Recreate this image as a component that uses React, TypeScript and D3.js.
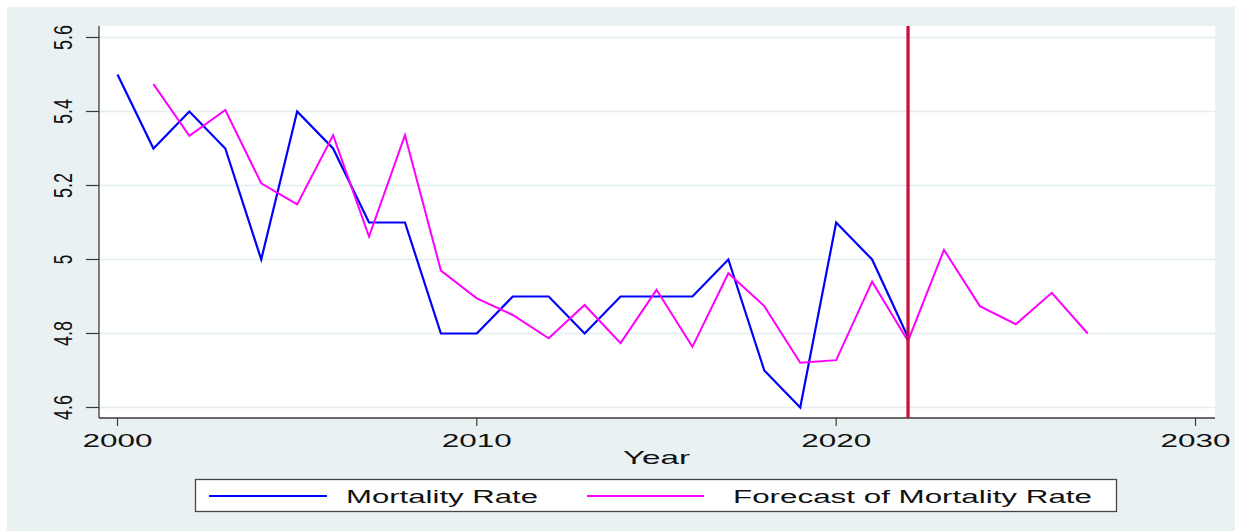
import React from "react";
import * as d3 from "d3";

const mortalityYears = [2000, 2001, 2002, 2003, 2004, 2005, 2006, 2007, 2008, 2009, 2010, 2011, 2012, 2013, 2014, 2015, 2016, 2017, 2018, 2019, 2020, 2021, 2022];
const mortalityRate = [5.5, 5.3, 5.4, 5.3, 5.0, 5.4, 5.3, 5.1, 5.1, 4.8, 4.8, 4.9, 4.9, 4.8, 4.9, 4.9, 4.9, 5.0, 4.7, 4.6, 5.1, 5.0, 4.79];
const forecastYears = [2001, 2002, 2003, 2004, 2005, 2006, 2007, 2008, 2009, 2010, 2011, 2012, 2013, 2014, 2015, 2016, 2017, 2018, 2019, 2020, 2021, 2022, 2023, 2024, 2025, 2026, 2027];
const forecastRate = [5.474, 5.334, 5.404, 5.206, 5.149, 5.336, 5.062, 5.336, 4.97, 4.895, 4.85, 4.787, 4.877, 4.774, 4.918, 4.764, 4.963, 4.874, 4.721, 4.728, 4.94, 4.78, 5.026, 4.874, 4.825, 4.91, 4.8];
const xTicks = [2000, 2010, 2020, 2030];
const yTicks = [4.6, 4.8, 5.0, 5.2, 5.4, 5.6];
const yTickLabels = ["4.6", "4.8", "5", "5.2", "5.4", "5.6"];
const forecastStartYear = 2022;
const legendLabels = ["Mortality Rate", "Forecast of Mortality Rate"];
const xAxisTitle = "Year";

const W = 1235;
const H = 531;
const plot = { left: 99, right: 1215, top: 26, bottom: 418 };
const FONT = "'Liberation Sans', Arial, Helvetica, sans-serif";

export default function App() {
  const x = d3.scaleLinear().domain([2000, 2030]).range([117.5, 1195.5]);
  const y = d3.scaleLinear().domain([4.6, 5.6]).range([407.5, 37.5]);

  const line = d3
    .line<[number, number]>()
    .x((d) => x(d[0]))
    .y((d) => y(d[1]));

  const mortalityPts = mortalityYears.map((yr, i) => [yr, mortalityRate[i]] as [number, number]);
  const forecastPts = forecastYears.map((yr, i) => [yr, forecastRate[i]] as [number, number]);

  const labelLen = (s: string) => (s.length === 1 ? 9.5 : 25);

  return (
    <svg
      width={W}
      height={H}
      style={{ position: "absolute", left: 0, top: 0, display: "block" }}
      fontFamily={FONT}
    >
      <rect x={0} y={0} width={W} height={H} fill="#ffffff" />
      <rect x={7} y={7} width={W - 7} height={H - 7} fill="#eaf1f3" />
      <rect
        x={plot.left}
        y={plot.top}
        width={plot.right - plot.left}
        height={plot.bottom - plot.top}
        fill="#ffffff"
      />
      {/* gridlines */}
      {yTicks.map((t) => (
        <line
          key={"g" + t}
          x1={plot.left}
          x2={plot.right}
          y1={y(t)}
          y2={y(t)}
          stroke="#e4edef"
          strokeWidth={1.6}
        />
      ))}
      {/* axes */}
      <line x1={plot.left} x2={plot.left} y1={plot.top} y2={plot.bottom} stroke="#3a3a3a" strokeWidth={1.3} />
      <line x1={plot.left} x2={plot.right} y1={plot.bottom} y2={plot.bottom} stroke="#3a3a3a" strokeWidth={1.3} />
      {yTicks.map((t, i) => (
        <g key={"yt" + t}>
          <line x1={86} x2={plot.left} y1={y(t)} y2={y(t)} stroke="#3a3a3a" strokeWidth={1.2} />
          <text
            transform={`translate(72,${y(t)}) scale(1.5,1) rotate(-90)`}
            textAnchor="middle"
            fontSize={17}
            fill="#111"
            textLength={labelLen(yTickLabels[i])}
            lengthAdjust="spacingAndGlyphs"
          >
            {yTickLabels[i]}
          </text>
        </g>
      ))}
      {xTicks.map((t) => (
        <g key={"xt" + t}>
          <line x1={x(t)} x2={x(t)} y1={plot.bottom} y2={426} stroke="#3a3a3a" strokeWidth={1.2} />
          <text
            x={x(t) - 35}
            y={447}
            fontSize={18.5}
            fill="#111"
            textLength={70}
            lengthAdjust="spacingAndGlyphs"
          >
            {String(t)}
          </text>
        </g>
      ))}
      <text x={623} y={464} fontSize={18.5} fill="#111" textLength={67} lengthAdjust="spacingAndGlyphs">
        {xAxisTitle}
      </text>
      {/* series */}
      <path d={line(mortalityPts) || ""} fill="none" stroke="#0000ff" strokeWidth={2.2} strokeLinejoin="miter" />
      <path d={line(forecastPts) || ""} fill="none" stroke="#ff00ff" strokeWidth={2} strokeLinejoin="miter" />
      {/* forecast start line */}
      <line
        x1={x(forecastStartYear)}
        x2={x(forecastStartYear)}
        y1={plot.top}
        y2={plot.bottom}
        stroke="#cc1040"
        strokeWidth={3.3}
      />
      {/* legend */}
      <rect x={195.5} y={479.5} width={921} height={32} fill="#ffffff" stroke="#444" strokeWidth={1.3} />
      <line x1={209} x2={327} y1={496} y2={496} stroke="#0000ff" strokeWidth={2} />
      <text x={346} y={503} fontSize={18} fill="#111" textLength={192} lengthAdjust="spacingAndGlyphs">
        {legendLabels[0]}
      </text>
      <line x1={587} x2={704} y1={496} y2={496} stroke="#ff00ff" strokeWidth={2} />
      <text x={733} y={503} fontSize={18} fill="#111" textLength={359} lengthAdjust="spacingAndGlyphs">
        {legendLabels[1]}
      </text>
    </svg>
  );
}
